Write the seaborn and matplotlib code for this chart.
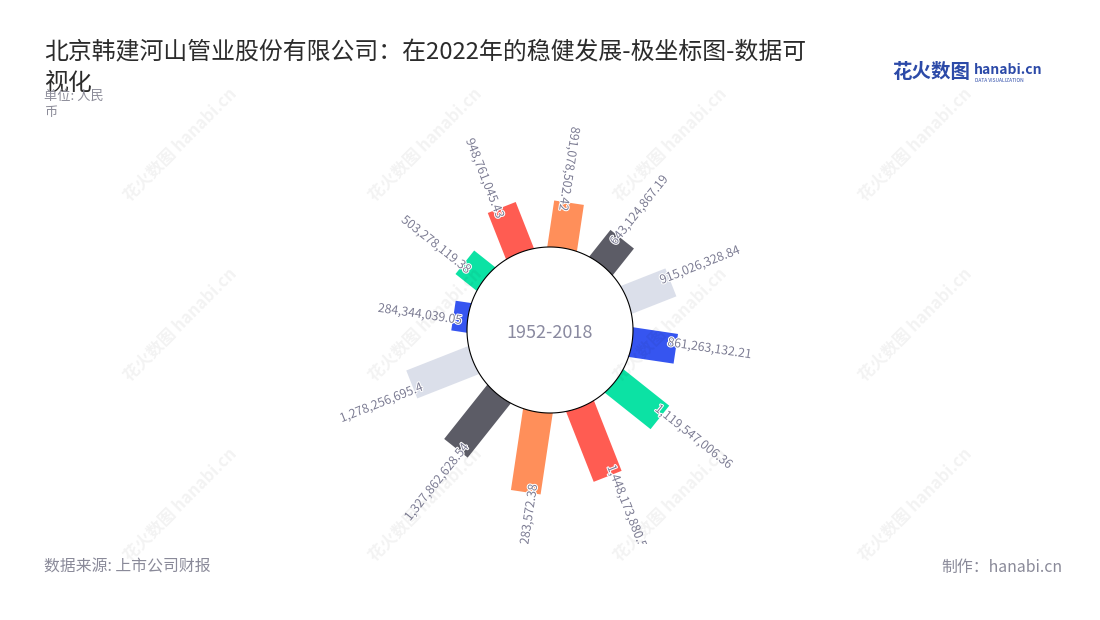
import numpy as np
import matplotlib
matplotlib.use("Agg")
import matplotlib.pyplot as plt
import matplotlib.patheffects as pe
from matplotlib.transforms import Bbox, TransformedBbox
import seaborn as sns

# ---------------- data (clockwise from the top) ----------------
values = [891078502.42, 643124867.19, 915026328.84, 861263132.21,
          1119547006.36, 1448173880.55, 1579283572.38, 1327862628.54,
          1278256695.4, 284344039.05, 503278119.38, 948761045.43]
bar_colors = ["#FF8F5A", "#5C5C66", "#DBDFEA", "#3655F0", "#0CE2A4", "#FF5C52"]
center_label = "1952-2018"
title = "北京韩建河山管业股份有限公司：在2022年的稳健发展-极坐标图-数据可\n视化"
subtitle = "单位: 人民\n币"
source = "数据来源: 上市公司财报"
credit = "制作：hanabi.cn"

# ---------------- style ----------------
sns.set_theme(style="white")
plt.rcParams['font.family'] = ['Noto Sans CJK SC', 'DejaVu Sans']

W, H = 1100, 620
fig = plt.figure(figsize=(W / 100, H / 100), dpi=100)
fig.patch.set_facecolor("white")

def fx(px):
    return px / W

def fy(py):
    return 1 - py / H

# layout of the polar area (pixels)
CX, CY = 550, 330
INNER_PX = 83.0
PX_PER_UNIT = 51.3e-9
V_MAX = 2.0e9
V0 = INNER_PX / PX_PER_UNIT
R_PX = (V_MAX + V0) * PX_PER_UNIT

ax = fig.add_axes([fx(CX - R_PX), fy(CY + R_PX), 2 * R_PX / W, 2 * R_PX / H],
                  projection="polar")
ax.set_theta_zero_location("N")
ax.set_theta_direction(-1)

n = len(values)
START_DEG = 8.5
angles_deg = START_DEG + 360.0 / n * np.arange(n)
theta = np.deg2rad(angles_deg)
palette = sns.color_palette(bar_colors)
colors = [palette[i % len(palette)] for i in range(n)]

bar_px = 30
ax.vlines(theta, -6 / PX_PER_UNIT, values, colors=colors,
          linewidth=bar_px * 72 / 100, capstyle="butt", zorder=2)

# inner white disc
circ_t = np.linspace(0, 2 * np.pi, 500)
ax.fill(circ_t, np.zeros_like(circ_t), facecolor="white", edgecolor="black",
        linewidth=0.8, zorder=3)

ax.set_ylim(-V0, V_MAX)
ax.set_axis_off()

# value labels
clip = TransformedBbox(Bbox([[0, fy(544)], [1, 1]]), fig.transFigure)
label_color = "#7C7C93"
for a, v, t in zip(angles_deg, values, theta):
    txt = format(v, ",")
    outward = 10 < (a % 360) < 185
    rot = 90 - a
    if outward:
        ha = "left"
    else:
        rot += 180
        ha = "right"
    rot = (rot + 180) % 360 - 180
    r_anchor = v - 9 / PX_PER_UNIT
    tt = ax.text(np.deg2rad(a - 2.5), r_anchor, txt, rotation=rot,
                 rotation_mode="anchor", ha=ha, va="center", fontsize=8.8,
                 color=label_color, zorder=5,
                 path_effects=[pe.withStroke(linewidth=1.5, foreground="white")])
    tt.set_clip_path(None)
    tt.set_clip_box(clip)
    tt.set_clip_on(True)

fig.text(fx(CX), fy(333), center_label, ha="center", va="center",
         fontsize=13, color="#8A8AA0")

# watermarks
for wx in (180, 425, 670, 915):
    for wy in (145, 325, 505):
        fig.text(fx(wx), fy(wy), "花火数图 hanabi.cn", rotation=45, ha="center",
                 va="center", fontsize=12, color="#000000", alpha=0.05,
                 fontweight="bold", zorder=6)

# title & texts
fig.text(fx(44), fy(41), title, fontsize=17.2, color="#2B2B2B", va="top",
         ha="left", linespacing=1.42)
fig.text(fx(44), fy(90), subtitle, fontsize=9.5, color="#8C8C99", va="top",
         ha="left", linespacing=1.3)
fig.text(fx(44), fy(567), source, fontsize=11.4, color="#8A8A99", va="center",
         ha="left")
fig.text(fx(1062), fy(567), credit, fontsize=11.4, color="#8A8A99", va="center",
         ha="right")

# logo
fig.text(fx(892), fy(73), "花火数图", fontsize=14, color="#2C4AA8",
         fontweight="bold", va="center", ha="left")
fig.text(fx(974), fy(70), "hanabi.cn", fontsize=10, color="#2C4AA8",
         fontweight="bold", va="center", ha="left")
fig.text(fx(975), fy(80), "DATA VISUALIZATION", fontsize=3.5, color="#2C4AA8",
         va="center", ha="left")

fig.savefig("out.png", dpi=100, facecolor="white")
